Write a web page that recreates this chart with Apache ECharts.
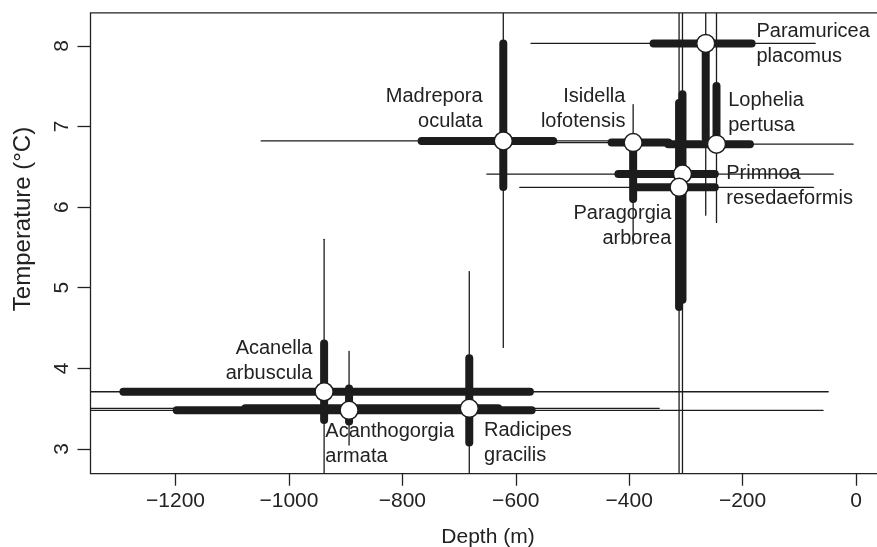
<!DOCTYPE html>
<html><head><meta charset="utf-8">
<script src="https://cdn.jsdelivr.net/npm/echarts@6/dist/echarts.min.js"></script>
<style>html,body{margin:0;padding:0;background:#fff}#c{width:877px;height:547px}</style>
</head><body><div id="c"></div>
<script>
// ---- data ----
const species = ['Paramuricea placomus','Lophelia pertusa','Madrepora oculata','Isidella lofotensis','Primnoa resedaeformis','Paragorgia arborea','Acanella arbuscula','Acanthogorgia armata','Radicipes gracilis'];
const depthMedian = [-265, -246, -622, -393, -306, -312, -938, -894, -682];
const tempMedian  = [8.03, 6.78, 6.82, 6.80, 6.41, 6.245, 3.71, 3.48, 3.505];
const depthMin = [-573, -420, -1049, -560, -651, -593, -1400, -1400, -1400];
const depthQ1  = [-357, -331, -766, -431, -419, -390, -1292, -1198, -1077];
const depthQ3  = [-184, -187, -534, -331, -249, -249, -575, -572, -631];
const depthMax = [-72, -5, -425, -250, -40, -75, -49, -58, -347];
const tempMin = [5.90, 5.81, 4.26, 5.54, 2.5, 2.5, 2.5, 3.05, 2.5];
const tempQ1  = [6.85, 6.78, 6.25, 6.10, 4.85, 4.76, 3.36, 3.34, 3.08];
const tempQ3  = [8.05, 7.50, 8.03, 6.82, 7.40, 7.29, 4.31, 3.75, 4.125];
const tempMax = [8.6, 8.6, 8.6, 7.27, 8.6, 8.6, 5.60, 4.21, 5.20];
const xTicks = [-1200, -1000, -800, -600, -400, -200, 0];
const yTicks = [3, 4, 5, 6, 7, 8];

// ---- label placement (layout, not data) ----
const labelPlace = {
  'Paramuricea placomus': {side: 'right', dx: 41, dy: 0.5},
  'Lophelia pertusa': {side: 'right', dx: 2, dy: -31.5},
  'Primnoa resedaeformis': {side: 'right', dx: 34, dy: 12},
  'Isidella lofotensis': {side: 'left', dx: 2, dy: -33.5},
  'Madrepora oculata': {side: 'left', dx: -11, dy: -32},
  'Paragorgia arborea': {side: 'left', dx: 2, dy: 38.5},
  'Acanella arbuscula': {side: 'left', dx: -2, dy: -30.5},
  'Acanthogorgia armata': {side: 'right', dx: -33.5, dy: 33.2},
  'Radicipes gracilis': {side: 'right', dx: 5, dy: 34.7}
};

const FONT = '"Liberation Sans", Arial, Helvetica, sans-serif';
const INK = '#1c1c1c';

const thinSegs = [], thickSegs = [];
species.forEach((s, i) => {
  thinSegs.push([depthMin[i], tempMedian[i], depthMax[i], tempMedian[i]]);
  thinSegs.push([depthMedian[i], tempMin[i], depthMedian[i], tempMax[i]]);
  thickSegs.push([depthQ1[i], tempMedian[i], depthQ3[i], tempMedian[i]]);
  thickSegs.push([depthMedian[i], tempQ1[i], depthMedian[i], tempQ3[i]]);
});

function segRenderer(width) {
  return function (params, api) {
    const a = api.coord([api.value(0), api.value(1)]);
    const b = api.coord([api.value(2), api.value(3)]);
    return {
      type: 'line',
      shape: {x1: a[0], y1: a[1], x2: b[0], y2: b[1]},
      style: {stroke: INK, lineWidth: width, lineCap: 'round'}
    };
  };
}

const points = species.map((s, i) => {
  const p = labelPlace[s];
  return {
    name: s,
    value: [depthMedian[i], tempMedian[i]],
    label: {
      show: true,
      position: p.side,
      distance: 0,
      offset: [p.dx, p.dy],
      formatter: s.replace(' ', '\n'),
      fontFamily: FONT, fontSize: 20, lineHeight: 25, color: '#222'
    }
  };
});

const chart = echarts.init(document.getElementById('c'), null, {renderer: 'canvas'});
chart.setOption({
  animation: false,
  backgroundColor: '#fff',
  grid: {left: 90.5, top: 12.9, right: -2.8, bottom: 73.3, show: true,
         borderColor: '#222', borderWidth: 1.3, backgroundColor: 'transparent',
         outerBoundsMode: 'none', containLabel: false},
  xAxis: {
    type: 'value', min: -1350, max: 42, position: 'bottom',
    axisLine: {show: false, onZero: false},
    splitLine: {show: false},
    axisTick: {show: true, inside: false, length: 12, customValues: xTicks, lineStyle: {color: '#222', width: 1.3}},
    axisLabel: {customValues: xTicks, margin: 17, fontFamily: FONT, fontSize: 21, color: '#222',
                formatter: v => (v < 0 ? '\u2212' + (-v) : String(v))}
  },
  yAxis: {
    type: 'value', min: 2.694, max: 8.408, position: 'left',
    axisLine: {show: false, onZero: false},
    splitLine: {show: false},
    axisTick: {show: true, inside: false, length: 13, customValues: yTicks, lineStyle: {color: '#222', width: 1.3}},
    axisLabel: {customValues: yTicks, rotate: 90, margin: 18, fontFamily: FONT, fontSize: 21, color: '#222'}
  },
  graphic: [
    {type: 'text', x: 488, y: 537, style: {text: 'Depth (m)', fontFamily: FONT, fontSize: 21, fill: '#222', align: 'center', verticalAlign: 'middle'}},
    {type: 'text', x: 23, y: 219, rotation: Math.PI / 2, style: {text: 'Temperature (\u00B0C)', fontFamily: FONT, fontSize: 24, fill: '#222', align: 'center', verticalAlign: 'middle'}}
  ],
  series: [
    {type: 'custom', name: 'range', clip: true, renderItem: segRenderer(1.3), data: thinSegs, encode: {x: [0, 2], y: [1, 3]}, z: 2},
    {type: 'custom', name: 'quartiles', clip: true, renderItem: segRenderer(8), data: thickSegs, encode: {x: [0, 2], y: [1, 3]}, z: 3},
    {type: 'scatter', name: 'median', data: points, symbol: 'circle', symbolSize: 18, z: 4,
     itemStyle: {color: '#fff', borderColor: INK, borderWidth: 1.5, opacity: 1},
     emphasis: {disabled: true}}
  ]
});
</script></body></html>
